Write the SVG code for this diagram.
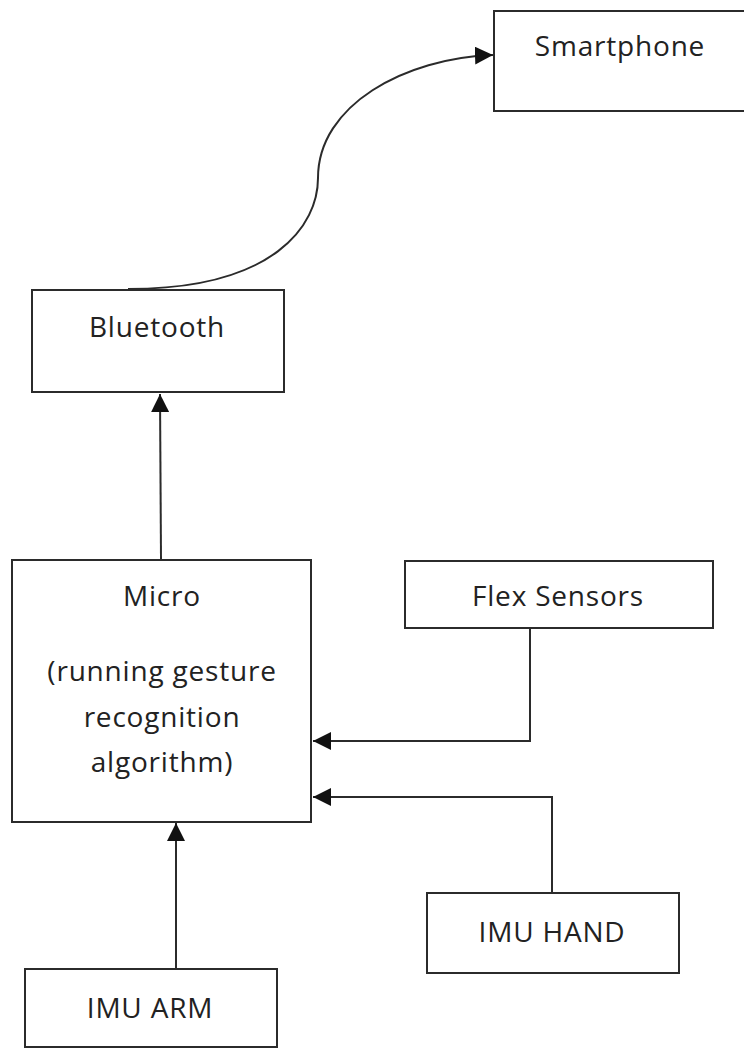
<svg xmlns="http://www.w3.org/2000/svg" width="744" height="1053" viewBox="0 0 744 1053">
<style>
.box{fill:#fff;stroke:#2b2b2b;stroke-width:2}
.lbl{font-family:"Open Sans","Noto Sans",sans-serif;font-size:28px;letter-spacing:0.8px;fill:#222;text-anchor:middle}
.con{fill:none;stroke:#2b2b2b;stroke-width:2}
</style>
<defs>
<marker id="ah2" viewBox="0 0 10 10" refX="10" refY="5" markerWidth="18" markerHeight="18" markerUnits="userSpaceOnUse" orient="auto">
<path d="M0 0 L10 5 L0 10 Z" fill="#111"/>
</marker>
</defs>
<rect width="744" height="1053" fill="#fff"/>
<g id="connectors">
<path class="con" d="M128 289 C 275 289, 318 225, 318 178 C 318 105, 405 58, 493 55" marker-end="url(#ah2)"/>
<path class="con" d="M161 559 L160 394" marker-end="url(#ah2)"/>
<path class="con" d="M530 628 L530 741 L313 741" marker-end="url(#ah2)"/>
<path class="con" d="M552 893 L552 797 L313 797" marker-end="url(#ah2)"/>
<path class="con" d="M176 969 L176 823" marker-end="url(#ah2)"/>
</g>
<g id="smartphone">
<rect class="box" x="494" y="11" width="256" height="100"/>
<text class="lbl" x="620" y="56">Smartphone</text>
</g>
<g id="bluetooth">
<rect class="box" x="32" y="290" width="252" height="102"/>
<text class="lbl" x="157" y="337">Bluetooth</text>
</g>
<g id="micro">
<rect class="box" x="12" y="560" width="299" height="262"/>
<text class="lbl" x="162" y="606">Micro</text>
<text class="lbl" x="162" y="681">(running gesture</text>
<text class="lbl" x="162" y="727">recognition</text>
<text class="lbl" x="162" y="772">algorithm)</text>
</g>
<g id="flex">
<rect class="box" x="405" y="561" width="308" height="67"/>
<text class="lbl" x="558" y="606">Flex Sensors</text>
</g>
<g id="imuhand">
<rect class="box" x="427" y="893" width="252" height="80"/>
<text class="lbl" x="552" y="942">IMU HAND</text>
</g>
<g id="imuarm">
<rect class="box" x="25" y="969" width="252" height="78"/>
<text class="lbl" x="150" y="1018">IMU ARM</text>
</g>
</svg>
